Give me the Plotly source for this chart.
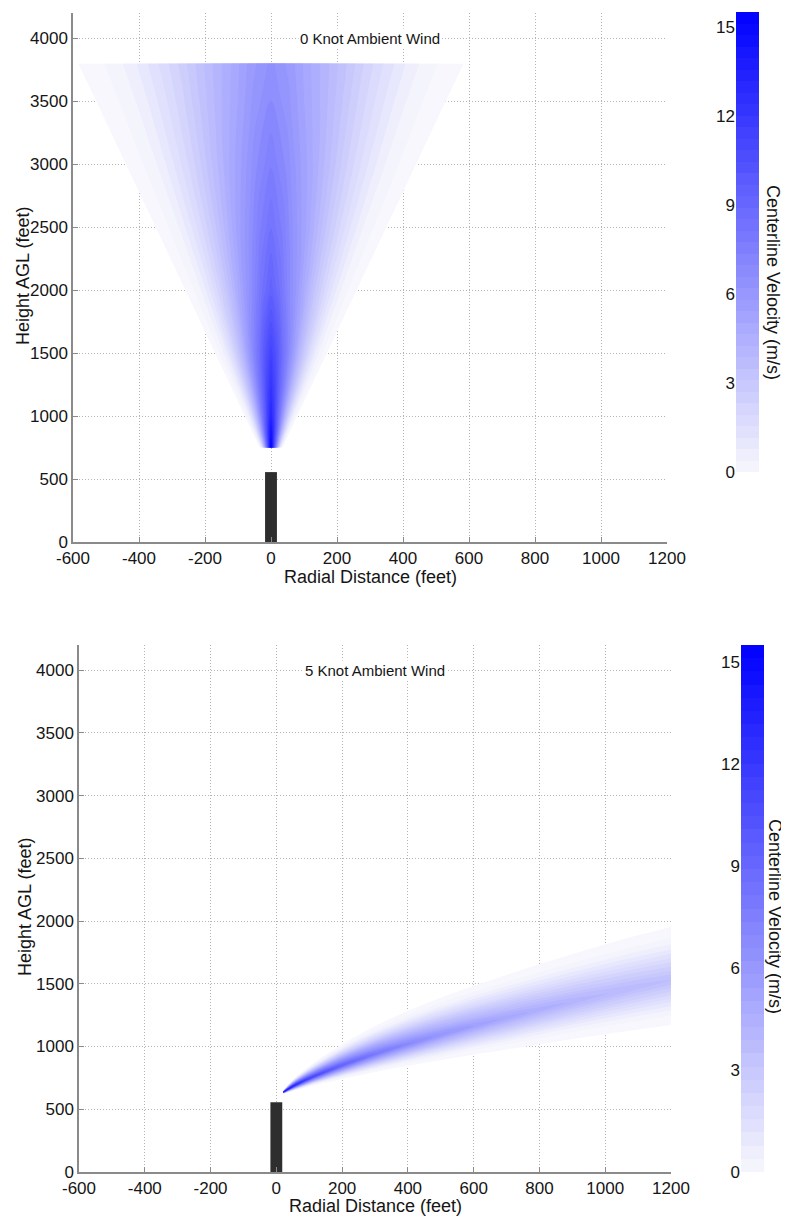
import numpy as np
import plotly.graph_objects as go

# page is 789x1221; the html body has an 8px margin, so the figure is drawn 8px in
PAGE_W, PAGE_H, BODY = 789, 1221, 8
W, H = PAGE_W - BODY, PAGE_H - BODY

# ---------------- data ----------------
x_ticks = [-600, -400, -200, 0, 200, 400, 600, 800, 1000, 1200]
y_ticks = [0, 500, 1000, 1500, 2000, 2500, 3000, 3500, 4000]
cb_ticks = [0, 3, 6, 9, 12, 15]
vel_max = 15.5

panel_titles = ["0 Knot Ambient Wind", "5 Knot Ambient Wind"]

stack_x = [0]
stack_height = [555]
stack_width = [36]

# normalised cross-plume position and relative velocity
radial_frac = [-1.0, -0.9, -0.8, -0.7, -0.6, -0.5, -0.4, -0.3, -0.2, -0.1, 0.0,
               0.1, 0.2, 0.3, 0.4, 0.5, 0.6, 0.7, 0.8, 0.9, 1.0]
radial_profile = [0.01, 0.04, 0.09, 0.17, 0.27, 0.38, 0.51, 0.64, 0.76, 0.90, 1.0,
                  0.90, 0.76, 0.64, 0.51, 0.38, 0.27, 0.17, 0.09, 0.04, 0.01]

# 0 knot plume (vertical cone)
calm_height = [750, 800, 900, 1000, 1250, 1500, 2000, 2500, 3000, 3500, 3800]
calm_halfwidth = [35, 44, 62, 80, 125, 170, 260, 350, 440, 530, 585]
calm_velocity = [15.5, 15.0, 14.2, 13.3, 12.3, 11.5, 9.5, 8.5, 7.7, 7.0, 6.7]

# 5 knot plume (bent-over)
wind_x = [21, 50, 100, 200, 300, 400, 500, 600, 700, 800, 900, 1000, 1100, 1200, 1300]
wind_y = [636, 682, 745, 850, 940, 1020, 1095, 1165, 1230, 1295, 1358, 1418, 1476, 1530, 1580]
wind_up = [12, 55, 100, 170, 225, 265, 295, 320, 342, 362, 380, 397, 412, 425, 438]
wind_dn = [12, 38, 65, 110, 145, 175, 205, 230, 255, 278, 300, 322, 342, 360, 375]
wind_velocity = [15.0, 13.5, 11.5, 9.5, 8.2, 7.2, 6.4, 5.8, 5.3, 4.9, 4.6, 4.3, 4.1, 3.9, 3.8]

# ---------------- styling ----------------
FONT = "Liberation Sans, Arial, sans-serif"
TXT = "#151515"
colorscale = [[0, "rgb(247,247,253)"], [1, "rgb(0,0,255)"]]
n_levels = 40
lvl = vel_max / n_levels

a = np.array(radial_frac)
prof = np.array(radial_profile)

# cone grid
calm_X = np.outer(calm_halfwidth, a)
calm_Y = np.repeat(np.array(calm_height, float)[:, None], len(a), axis=1)
calm_Z = np.outer(calm_velocity, prof)

# bent plume grid
up = np.array(wind_up, float)[:, None]
dn = np.array(wind_dn, float)[:, None]
off = np.where(a[None, :] >= 0, up * a[None, :], dn * a[None, :])
wind_X = np.repeat(np.array(wind_x, float)[:, None], len(a), axis=1)
wind_Y = np.array(wind_y, float)[:, None] + off
wind_Z = np.outer(wind_velocity, prof)

hidden = dict(showgrid=False, showline=False, showticklabels="none",
              startline=False, endline=False, minorgridcount=0,
              gridcolor="rgba(0,0,0,0)", linecolor="rgba(0,0,0,0)",
              startlinecolor="rgba(0,0,0,0)", endlinecolor="rgba(0,0,0,0)")

fig = go.Figure()


def add_plume(cid, X, Y, Z, xa, ya):
    b = list(range(X.shape[0]))
    fig.add_trace(go.Carpet(a=radial_frac, b=b, x=X.tolist(), y=Y.tolist(),
                            carpet=cid, xaxis=xa, yaxis=ya,
                            aaxis=hidden, baxis=hidden))
    fig.add_trace(go.Contourcarpet(a=radial_frac, b=b, z=Z.tolist(), carpet=cid,
                                   xaxis=xa, yaxis=ya,
                                   autocontour=False,
                                   contours=dict(start=lvl, end=vel_max, size=lvl,
                                                 coloring="fill", showlines=False),
                                   line=dict(width=0),
                                   colorscale=colorscale, zauto=False, zmin=0, zmax=vel_max,
                                   showscale=False))


add_plume("calm", calm_X, calm_Y, calm_Z, "x", "y")
add_plume("wind", wind_X, wind_Y, wind_Z, "x2", "y2")

for xa, ya in (("x", "y"), ("x2", "y2")):
    fig.add_trace(go.Bar(x=stack_x, y=stack_height, width=stack_width,
                         marker=dict(color="#2e2e2e", line=dict(width=0)),
                         xaxis=xa, yaxis=ya, showlegend=False, hoverinfo="skip"))

# colour bars drawn as heatmaps on their own axes
edges = np.linspace(0, vel_max, n_levels + 1)
centers = 0.5 * (edges[:-1] + edges[1:])
for xa, ya in (("x3", "y3"), ("x4", "y4")):
    fig.add_trace(go.Heatmap(x=[0, 1], y=edges.tolist(), z=[[c] for c in centers],
                             colorscale=colorscale, zmin=0, zmax=vel_max,
                             showscale=False, xaxis=xa, yaxis=ya, hoverinfo="skip"))


def px_x(p):
    return (p - BODY) / W


def px_y(p):
    return 1 - (p - BODY) / H


GRID = dict(showgrid=True, gridcolor="#b4b4b4", griddash="1px,2px", gridwidth=1,
            showline=True, linecolor="#8a8a8a", linewidth=1.5,
            ticks="inside", ticklen=5, tickcolor="#8a8a8a",
            tickfont=dict(size=17, color=TXT, family=FONT), zeroline=False,
            automargin=False)


def main_x(dom, anchor):
    return dict(domain=dom, range=[-600, 1200], tickvals=x_ticks,
                ticktext=[str(v) for v in x_ticks], anchor=anchor, **GRID)


def main_y(dom, anchor):
    return dict(domain=dom, range=[0, 4200], tickvals=y_ticks,
                ticktext=[str(v) for v in y_ticks], anchor=anchor, **GRID)


def cb_x(dom, anchor):
    return dict(domain=dom, range=[0, 1], anchor=anchor, visible=False,
                fixedrange=True, automargin=False)


def cb_y(dom, anchor):
    return dict(domain=dom, range=[0, vel_max], anchor=anchor, side="left",
                tickvals=cb_ticks, showgrid=False, zeroline=False, showline=False,
                ticks="", tickfont=dict(size=17, color=TXT, family=FONT),
                automargin=False)


annotations = []
panels = [
    dict(xd=(73, 667), yd=(13, 542), xa="x", ya="y", xl=577, yl=(23, 276), cl=(773, 282)),
    dict(xd=(79, 671), yd=(645, 1172), xa="x2", ya="y2", xl=1206, yl=(25, 907), cl=(775, 916)),
]
for p, title in zip(panels, panel_titles):
    annotations.append(dict(text=title, xref=p["xa"], yref=p["ya"], x=300, y=4000,
                            showarrow=False, bgcolor="white", borderpad=1,
                            font=dict(size=15, color=TXT, family=FONT)))
    annotations.append(dict(text="Radial Distance (feet)", xref="paper", yref="paper",
                            x=px_x((p["xd"][0] + p["xd"][1]) / 2), y=px_y(p["xl"]),
                            xanchor="center", yanchor="middle", showarrow=False,
                            font=dict(size=18, color=TXT, family=FONT)))
    annotations.append(dict(text="Height AGL (feet)", xref="paper", yref="paper",
                            x=px_x(p["yl"][0]), y=px_y(p["yl"][1]), textangle=-90,
                            xanchor="center", yanchor="middle", showarrow=False,
                            font=dict(size=18, color=TXT, family=FONT)))
    annotations.append(dict(text="Centerline Velocity (m/s)", xref="paper", yref="paper",
                            x=px_x(p["cl"][0]), y=px_y(p["cl"][1]), textangle=90,
                            xanchor="center", yanchor="middle", showarrow=False,
                            font=dict(size=18, color=TXT, family=FONT)))

fig.update_layout(
    width=W, height=H, margin=dict(l=0, r=0, t=0, b=0, autoexpand=False),
    paper_bgcolor="white", plot_bgcolor="white", showlegend=False,
    font=dict(family=FONT, color=TXT),
    xaxis=main_x([px_x(73), px_x(667)], "y"),
    yaxis=main_y([px_y(542), px_y(13)], "x"),
    xaxis2=main_x([px_x(79), px_x(671)], "y2"),
    yaxis2=main_y([px_y(1172), px_y(645)], "x2"),
    xaxis3=cb_x([px_x(736), px_x(759)], "y3"),
    yaxis3=cb_y([px_y(472), px_y(12)], "x3"),
    xaxis4=cb_x([px_x(741), px_x(764)], "y4"),
    yaxis4=cb_y([px_y(1172), px_y(645)], "x4"),
    annotations=annotations,
)

fig.write_html("out.html")
